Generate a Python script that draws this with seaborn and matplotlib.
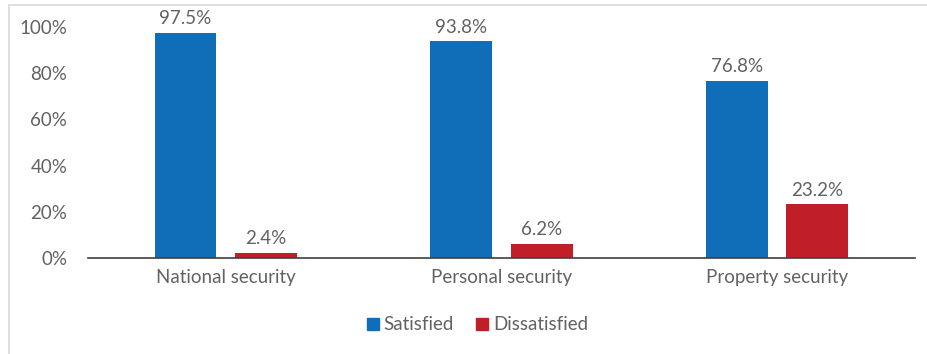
import pandas as pd
import seaborn as sns
import matplotlib.pyplot as plt
from matplotlib.lines import Line2D

categories = ['National security', 'Personal security', 'Property security']
satisfied = [97.5, 93.8, 76.8]
dissatisfied = [2.4, 6.2, 23.2]
series = ['Satisfied', 'Dissatisfied']
yticks = [0, 20, 40, 60, 80, 100]

df = pd.DataFrame({
    'Category': categories * 2,
    'Group': [series[0]] * 3 + [series[1]] * 3,
    'Value': satisfied + dissatisfied,
})

sns.set_style('white')
plt.rcParams['font.family'] = ['Lato', 'DejaVu Sans']
txt = '#626262'
fs = 13.5

fig = plt.figure(figsize=(9.28, 3.54), dpi=100)
ax = fig.add_axes([0.0948, 0.271, 0.891, 0.653])

palette = {'Satisfied': '#106EB8', 'Dissatisfied': '#C11F27'}
sns.barplot(data=df, x='Category', y='Value', hue='Group', palette=palette,
            width=0.585, gap=0.235, saturation=1, legend=False,
            linewidth=0, ax=ax)

for cont in ax.containers:
    ax.bar_label(cont, labels=[f'{v:.1f}%' for v in cont.datavalues],
                 padding=4, fontsize=fs, color=txt)

ax.set_ylim(0, 100)
ax.set_xlim(-0.5, 2.5)
ax.set_yticks(yticks)
ax.set_yticklabels([f'{t}%' for t in yticks])
ax.tick_params(axis='both', labelsize=fs, colors=txt, length=0)
ax.tick_params(axis='y', pad=15)
ax.tick_params(axis='x', pad=8)
ax.set_xlabel('')
ax.set_ylabel('')
for s in ['top', 'right', 'left']:
    ax.spines[s].set_visible(False)
ax.spines['bottom'].set_color('#404040')
ax.spines['bottom'].set_linewidth(1.2)
for t in ax.texts:
    t.set_clip_on(False)

handles = [Line2D([], [], marker='s', linestyle='', markersize=9,
                  color=palette[s]) for s in series]
fig.legend(handles, series, loc='center', bbox_to_anchor=(0.513, 0.082),
           ncol=2, frameon=False, fontsize=fs, labelcolor=txt,
           handletextpad=0.1, columnspacing=1.1, handlelength=0.9)

# thin grey frame at the left and top edges
fig.add_artist(Line2D([9.5 / 928, 9.5 / 928], [0, 1 - 4.5 / 354],
                      color='#D9D9D9', lw=1.2, transform=fig.transFigure))
fig.add_artist(Line2D([9.5 / 928, 1], [1 - 4.5 / 354, 1 - 4.5 / 354],
                      color='#D9D9D9', lw=1.2, transform=fig.transFigure))

fig.savefig('out.png', dpi=100)
